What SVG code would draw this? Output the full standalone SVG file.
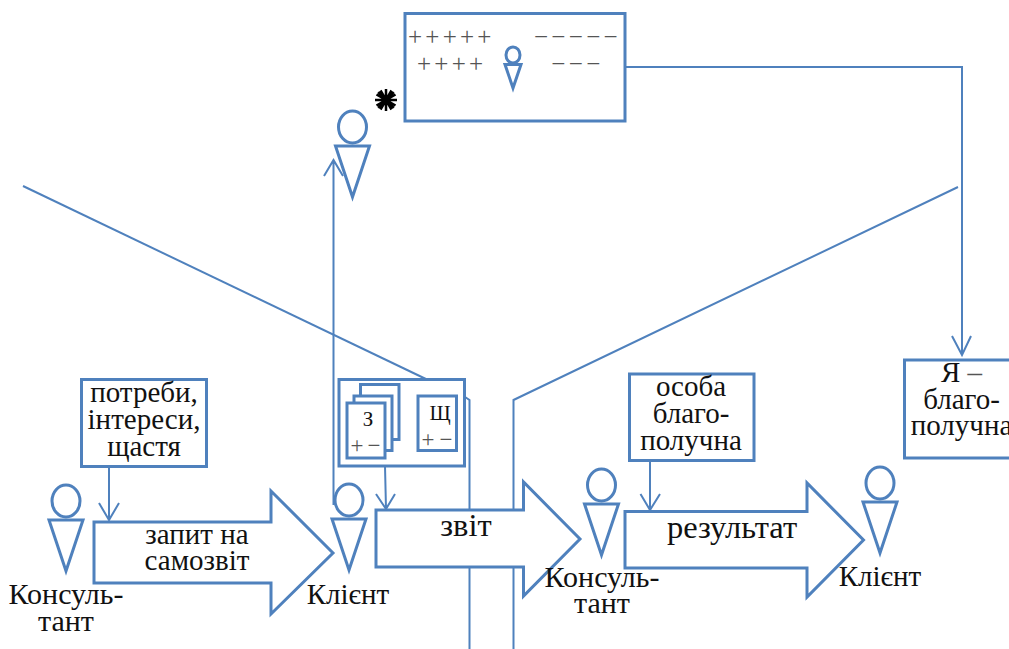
<svg xmlns="http://www.w3.org/2000/svg" width="1009" height="649" viewBox="0 0 1009 649">
<style>
text{font-family:"Liberation Serif","Times New Roman",serif;fill:#111;text-anchor:middle}
.t{font-size:29px}
.k{font-size:30px}
.h{font-size:32.500px}
.g{font-size:25px;fill:#555}
.b{fill:#fff;stroke:#4f81bd;stroke-width:3}
.o{fill:none;stroke:#4f81bd;stroke-width:3}
.c{fill:none;stroke:#4f81bd;stroke-width:2}
</style>
<defs>
<g id="p"><ellipse cx="0" cy="-18" rx="14" ry="16" class="o"/><path d="M-17 1H17L0 52Z" class="o"/></g>
</defs>
<g id="connectors-back">
<path class="c" d="M23 186L428 380"/>
<path class="c" d="M958 187L513.500 400V649"/>
<path class="c" d="M465 397L469.500 400V649"/>
<path class="c" d="M625 67H962V355"/>
<path class="c" d="M952 336L962 355L971 336"/>
</g>
<g id="top-box">
<rect class="b" x="405" y="13.500" width="220" height="107.500"/>
<text class="g" x="415 432.300 449.700 467 484.300" y="45">+++++</text>
<text class="g" x="424 441.300 458.700 476" y="71.500">++++</text>
<text class="g" x="541 558.400 575.800 593.200 610.600" y="45">−−−−−</text>
<text class="g" x="558.400 575.800 593.200" y="71.500">−−−</text>
<ellipse class="o" cx="513" cy="55" rx="7" ry="8"/>
<path class="o" d="M505 64.500H521L513 88Z"/>
</g>
<g id="star"><path d="M386 89V111M375 100H397M378.200 92.200L393.800 107.800M393.800 92.200L378.200 107.800M380.500 90.500L391.500 109.500M391.500 90.500L380.500 109.500M376.500 94.500L395.500 105.500M395.500 94.500L376.500 105.500" fill="none" stroke="#000" stroke-width="2.500"/></g>
<g id="person-top"><use href="#p" x="352.500" y="145"/></g>
<g id="arrow-zapyt"><path class="b" d="M94 522H271V491L333 553L271 614V583H94Z"/><text class="t" x="197" y="544">запит на</text><text class="t" x="197" y="570">самозвіт</text></g>
<g id="arrow-zvit"><path class="b" d="M376 510H523.500V482L580 539L523.500 596V567H376Z"/><text class="h" x="466" y="536">звіт</text></g>
<g id="arrow-rezultat"><path class="b" d="M625 511.500H807V483L863.500 540L807 597V568H625Z"/><text class="h" x="732" y="538">результат</text></g>
<g id="needs"><rect class="b" x="81.500" y="379.500" width="125" height="87"/><text class="t" x="144" y="402">потреби,</text><text class="t" x="144" y="429">інтереси,</text><text class="t" x="144" y="456">щастя</text></g>
<g id="person-box"><rect class="b" x="629.500" y="374" width="124.500" height="86.500"/><text class="t" x="691" y="396">особа</text><text class="t" x="691" y="423">благо-</text><text class="t" x="691" y="449.500">получна</text></g>
<g id="ya-box"><rect class="b" x="904.500" y="360" width="110" height="98"/><text class="t" x="961.500" y="382">Я <tspan fill="#555">–</tspan></text><text class="t" x="961.500" y="408.500">благо-</text><text class="t" x="961.500" y="435">получна</text></g>
<g id="cards">
<rect class="b" x="339" y="379.500" width="125.500" height="86.500"/>
<rect class="b" x="360.500" y="384.500" width="38.500" height="55"/>
<rect class="b" x="354" y="396" width="38" height="54.500"/>
<rect class="b" x="347" y="403" width="38" height="55"/>
<rect class="b" x="418" y="396" width="38.500" height="54.500"/>
<text style="font-size:21px" x="368" y="425.500">З</text>
<text style="font-size:21px" x="440" y="420">Щ</text>
<text class="g" style="font-size:23px" x="357 374" y="453">+−</text>
<text class="g" style="font-size:23px" x="428 446" y="447">+−</text>
</g>
<g id="person-1"><use href="#p" x="66" y="519"/><text class="k" x="66" y="604">Консуль-</text><text class="k" x="66" y="631">тант</text></g>
<g id="person-2"><use href="#p" x="349" y="518"/><text class="t" x="348" y="604">Клієнт</text></g>
<g id="person-3"><use href="#p" x="601.500" y="503"/><text class="k" x="602" y="587">Консуль-</text><text class="k" x="602" y="613">тант</text></g>
<g id="person-4"><use href="#p" x="880" y="501"/><text class="t" x="880" y="586">Клієнт</text></g>
<g id="connectors">
<path class="c" d="M333.500 505V160M324 176L333.500 160L343 176"/>
<path class="c" d="M109 467V520M99 503L109 520L119 503"/>
<path class="c" d="M385 466L386 509M376 494L386 509L395 494"/>
<path class="c" d="M650 461V510M640.500 494L650 510L660 494"/>
</g>
</svg>
